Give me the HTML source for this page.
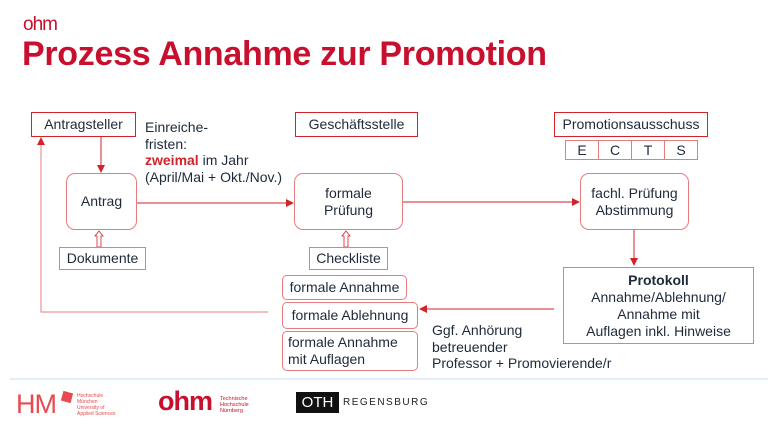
<!DOCTYPE html>
<html><head><meta charset="utf-8"><style>
body{margin:0;width:768px;height:432px;overflow:hidden;background:#fff;font-family:"Liberation Sans",sans-serif;color:#1e2a3a;position:relative}
.a{position:absolute}
.b{position:absolute;border:1.5px solid #d2232a;box-sizing:border-box;display:flex;align-items:center;justify-content:center;text-align:center;font-size:14px;line-height:17px;background:#fff}
.r{border:1px solid #e77c7f;border-radius:9px}
.l{border:1px solid #e77c7f}
.t{font-size:14px;line-height:16.5px;position:absolute}
</style></head><body>
<div class="a" style="left:23px;top:14px;font-size:19px;color:#c8102e;letter-spacing:-1px">ohm</div>
<div class="a" style="left:22px;top:35px;font-size:34px;font-weight:bold;color:#c8102e;letter-spacing:-0.3px">Prozess Annahme zur Promotion</div>
<svg class="a" style="left:0;top:0" width="768" height="432">
<defs><marker id="m" markerWidth="8" markerHeight="8" refX="7" refY="4" orient="auto" markerUnits="userSpaceOnUse"><path d="M0,0 L8,4 L0,8z" fill="#d2232a"/></marker></defs>
<g stroke="#d2232a" stroke-width="1" fill="none">
<line x1="101" y1="136" x2="101" y2="172" marker-end="url(#m)"/>
<line x1="137" y1="203" x2="293" y2="203" marker-end="url(#m)"/>
<line x1="403" y1="202" x2="579" y2="202" marker-end="url(#m)"/>
<line x1="634" y1="230" x2="634" y2="265" marker-end="url(#m)"/>
<line x1="554" y1="309" x2="420" y2="309" marker-end="url(#m)"/>
<polyline points="268,312 41,312 41,138" marker-end="url(#m)" stroke="#e77c7f"/>
</g>
<g stroke="#d2232a" stroke-width="0.8" fill="#fff">
<path d="M97,247 V236 H95 L99,231 L103,236 H101 V247z"/>
<path d="M344,247 V236 H342 L346,231 L350,236 H348 V247z"/>
</g>
<line x1="10" y1="379" x2="768" y2="379" stroke="#e3eef8" stroke-width="2"/>
</svg>
<div class="b" style="left:31px;top:112px;width:105px;height:25px">Antragsteller</div>
<div class="t" style="left:145px;top:119px">Einreiche-<br>fristen:<br><b style="color:#d2232a">zweimal</b> im Jahr<br>(April/Mai + Okt./Nov.)</div>
<div class="b r" style="left:66px;top:173px;width:71px;height:57px">Antrag</div>
<div class="b l" style="left:59px;top:247px;width:87px;height:23px">Dokumente</div>
<div class="b" style="left:295px;top:112px;width:123px;height:25px">Geschäftsstelle</div>
<div class="b r" style="left:294px;top:173px;width:109px;height:57px">formale<br>Prüfung</div>
<div class="b l" style="left:309px;top:247px;width:79px;height:23px">Checkliste</div>
<div class="b" style="left:554px;top:112px;width:154px;height:25px">Promotionsausschuss</div>
<div class="a" style="left:565px;top:140px;display:flex">
<div class="b l" style="position:static;width:34px;height:20px">E</div><div class="b l" style="position:static;width:34px;height:20px;margin-left:-1px">C</div><div class="b l" style="position:static;width:34px;height:20px;margin-left:-1px">T</div><div class="b l" style="position:static;width:34px;height:20px;margin-left:-1px">S</div></div>
<div class="b r" style="left:580px;top:173px;width:109px;height:57px">fachl. Prüfung<br>Abstimmung</div>
<div class="b l" style="left:563px;top:267px;width:191px;height:77px">
<div><b>Protokoll</b><br>Annahme/Ablehnung/<br>Annahme mit<br>Auflagen inkl. Hinweise</div></div>
<div class="b r" style="left:282px;top:275px;width:125px;height:25px;border-radius:5px">formale Annahme</div>
<div class="b r" style="left:282px;top:302px;width:136px;height:27px;border-radius:5px">formale Ablehnung</div>
<div class="b r" style="left:282px;top:331px;width:136px;height:40px;border-radius:5px;justify-content:flex-start;text-align:left;padding-left:5px">formale Annahme<br>mit Auflagen</div>
<div class="t" style="left:432px;top:322px">Ggf. Anhörung<br>betreuender<br>Professor + Promovierende/r</div>
<div class="a" style="left:16px;top:389px;font-size:27px;color:#e84a4f;letter-spacing:-1px">HM</div>
<div class="a" style="left:62px;top:392px;width:10px;height:10px;background:#e84a4f;transform:rotate(15deg)"></div>
<div class="a" style="left:77px;top:393px;font-size:5px;line-height:6px;color:#e84a4f">Hochschule<br>München<br>University of<br>Applied Sciences</div>
<div class="a" style="left:158px;top:386px;font-size:27px;font-weight:bold;color:#c8102e;letter-spacing:-1px">ohm</div>
<div class="a" style="left:220px;top:396px;font-size:5.5px;line-height:6px;color:#c8102e">Technische<br>Hochschule<br>Nürnberg</div>
<div class="a" style="left:296px;top:392px;width:43px;height:21px;background:#111;color:#fff;font-size:15px;line-height:21px;text-align:center">OTH</div>
<div class="a" style="left:343px;top:397px;font-size:10px;letter-spacing:1.5px;color:#222">REGENSBURG</div>
</body></html>
